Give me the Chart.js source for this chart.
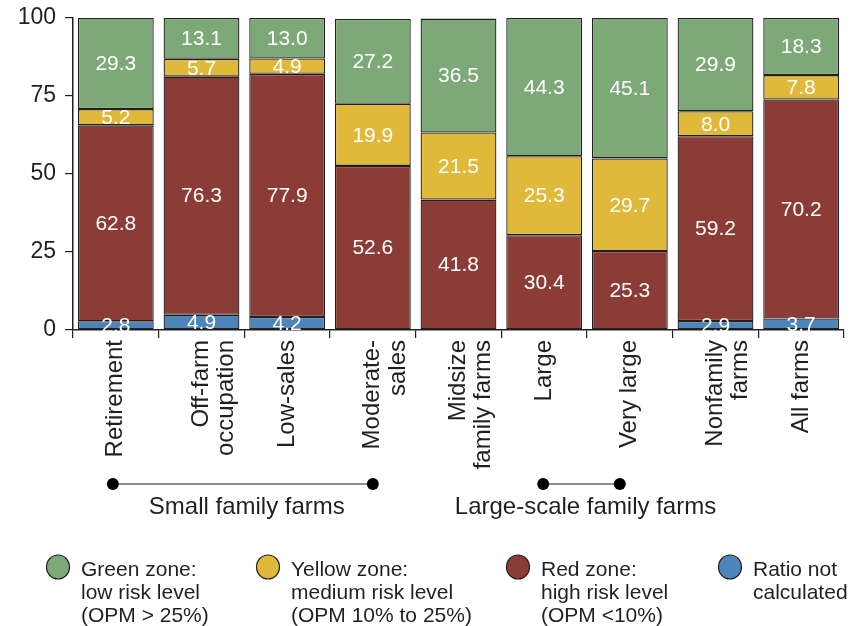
<!DOCTYPE html>
<html><head><meta charset="utf-8">
<script src="https://cdn.jsdelivr.net/npm/chart.js@4.4.0/dist/chart.umd.min.js"></script>
<style>html,body{margin:0;padding:0;background:#fff}#wrap{width:852px;height:626px;position:relative}</style>
</head><body><div id="wrap"><canvas id="c" width="852" height="626"></canvas></div>
<script>
const categories = [["Retirement"],["Off-farm","occupation"],["Low-sales"],["Moderate-","sales"],["Midsize","family farms"],["Large"],["Very large"],["Nonfamily","farms"],["All farms"]];
const blueVals = [2.8,4.9,4.2,0,0,0,0,2.9,3.7];
const redVals = [62.8,76.3,77.9,52.6,41.8,30.4,25.3,59.2,70.2];
const yellowVals = [5.2,5.7,4.9,19.9,21.5,25.3,29.7,8.0,7.8];
const greenVals = [29.3,13.1,13.0,27.2,36.5,44.3,45.1,29.9,18.3];
const yTicks = [0,25,50,75,100];
const groups = [{label:"Small family farms", from:0, to:3},{label:"Large-scale family farms", from:5, to:6}];
const legendItems = [
  {color:"#7DA877", lines:["Green zone:","low risk level","(OPM > 25%)"]},
  {color:"#E0B93B", lines:["Yellow zone:","medium risk level","(OPM 10% to 25%)"]},
  {color:"#8B3C36", lines:["Red zone:","high risk level","(OPM <10%)"]},
  {color:"#4E85B8", lines:["Ratio not","calculated"]}
];
const FONT = "'Liberation Sans', Arial, sans-serif";
const ink = "#231f20";

const labelPlugin = {
  id:'segLabels',
  afterDatasetsDraw(chart){
    const ctx = chart.ctx;
    ctx.save();
    ctx.font = "21px " + FONT;
    ctx.fillStyle = "#fff";
    ctx.textAlign = "center";
    ctx.textBaseline = "middle";
    chart.data.datasets.forEach((ds,i)=>{
      const meta = chart.getDatasetMeta(i);
      meta.data.forEach((el,j)=>{
        const v = ds.data[j];
        if(!v) return;
        const p = el.getProps(['x','y','base'],true);
        ctx.fillText(v.toFixed(1), p.x, (p.y+p.base)/2 + 1);
      });
    });
    ctx.restore();
  }
};

const extrasPlugin = {
  id:'extras',
  afterDraw(chart){
    const ctx = chart.ctx;
    const xs = chart.scales.x;
    ctx.save();
    const adj = [[-3,0],[-1,-10]];
    groups.forEach((g,gi)=>{
      const x1 = xs.getPixelForValue(g.from) + adj[gi][0];
      const x2 = xs.getPixelForValue(g.to) + adj[gi][1];
      const y = 484;
      ctx.strokeStyle = ink; ctx.lineWidth = 1.2;
      ctx.beginPath(); ctx.moveTo(x1,y); ctx.lineTo(x2,y); ctx.stroke();
      ctx.fillStyle = "#000";
      [x1,x2].forEach(x=>{ctx.beginPath(); ctx.arc(x,y,6,0,Math.PI*2); ctx.fill();});
      ctx.font = "24px " + FONT;
      ctx.fillStyle = ink; ctx.textAlign="center"; ctx.textBaseline="middle";
      ctx.fillText(g.label, (x1+x2)/2 + 4, 507);
    });
    const lx = [58,268,518,730];
    legendItems.forEach((it,k)=>{
      const cx = lx[k], cy = 567;
      ctx.beginPath(); ctx.ellipse(cx,cy,11.5,12,0,0,Math.PI*2);
      ctx.fillStyle = it.color; ctx.fill();
      ctx.strokeStyle = ink; ctx.lineWidth = 1.2; ctx.stroke();
      ctx.font = "21px " + FONT; ctx.fillStyle = ink;
      ctx.textAlign="left"; ctx.textBaseline="middle";
      it.lines.forEach((t,m)=>ctx.fillText(t, cx+23, 570 + m*23));
    });
    ctx.restore();
  }
};

const mk = (label, data, color) => ({label, data, backgroundColor: color, borderColor: ink, borderWidth: 1.3, borderSkipped: false, categoryPercentage: 1, barPercentage: 0.885});

new Chart(document.getElementById('c'), {
  type:'bar',
  data:{ labels: categories, datasets:[
    mk("Ratio not calculated", blueVals, legendItems[3].color),
    mk("Red zone", redVals, legendItems[2].color),
    mk("Yellow zone", yellowVals, legendItems[1].color),
    mk("Green zone", greenVals, legendItems[0].color)
  ]},
  options:{
    responsive:false, animation:false,
    layout:{padding:{top:18,right:8,bottom:126,left:0}},
    plugins:{legend:{display:false}, tooltip:{enabled:false}},
    scales:{
      x:{ stacked:true, offset:true,
        grid:{offset:true, drawOnChartArea:false, drawTicks:true, tickLength:8, color:ink, lineWidth:1.2},
        border:{display:true, color:ink, width:1.5},
        ticks:{ minRotation:90, maxRotation:90, autoSkip:false, color:ink, font:{size:24, family:FONT, lineHeight:1.05}, padding:2 },
        afterFit(s){ s.height = 170; s.paddingLeft = 0; s.paddingRight = 0; }
      },
      y:{ stacked:true, min:0, max:100,
        afterBuildTicks(s){ s.ticks = yTicks.map(v=>({value:v})); },
        grid:{drawOnChartArea:false, drawTicks:true, tickLength:8, color:ink, lineWidth:1.2},
        border:{display:true, color:ink, width:1.5},
        ticks:{ color:ink, font:{size:23, family:FONT}, padding:9 },
        afterFit(s){ s.width = 73; s.paddingTop = 0; s.paddingBottom = 0; }
      }
    }
  },
  plugins:[labelPlugin, extrasPlugin]
});
</script></body></html>
